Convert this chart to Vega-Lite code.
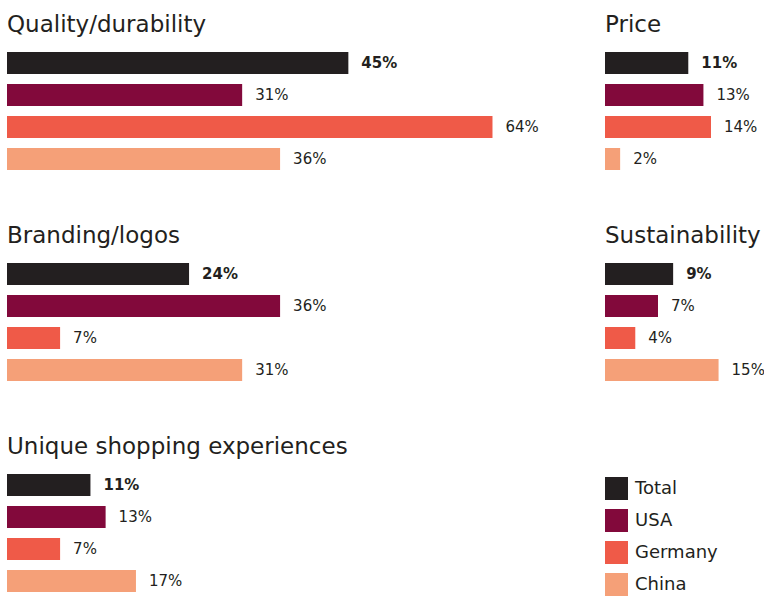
{
  "$schema": "https://vega.github.io/schema/vega-lite/v6.json",
  "padding": {"left": 7, "top": 14, "right": 0, "bottom": 0},
  "background": "white",
  "spacing": 50,
  "config": {
    "view": {"stroke": null},
    "font": "DejaVu Sans",
    "title": {"anchor": "start", "fontSize": 23, "fontWeight": "normal", "font": "DejaVu Sans", "color": "#231f20", "baseline": "alphabetic", "offset": 10, "frame": "group"},
    "legend": {"orient": "none", "legendX": 598, "legendY": 430, "symbolType": "square", "symbolSize": 529, "symbolStrokeWidth": 0, "symbolOpacity": 1, "labelFontSize": 18, "labelFont": "DejaVu Sans", "labelColor": "#231f20", "rowPadding": 9, "labelOffset": 7, "title": null}
  },
  "data": {"values": [
    {"panel": "Quality/durability", "country": "Total", "value": 0.45},
    {"panel": "Quality/durability", "country": "USA", "value": 0.31},
    {"panel": "Quality/durability", "country": "Germany", "value": 0.64},
    {"panel": "Quality/durability", "country": "China", "value": 0.36},
    {"panel": "Branding/logos", "country": "Total", "value": 0.24},
    {"panel": "Branding/logos", "country": "USA", "value": 0.36},
    {"panel": "Branding/logos", "country": "Germany", "value": 0.07},
    {"panel": "Branding/logos", "country": "China", "value": 0.31},
    {"panel": "Unique shopping experiences", "country": "Total", "value": 0.11},
    {"panel": "Unique shopping experiences", "country": "USA", "value": 0.13},
    {"panel": "Unique shopping experiences", "country": "Germany", "value": 0.07},
    {"panel": "Unique shopping experiences", "country": "China", "value": 0.17},
    {"panel": "Price", "country": "Total", "value": 0.11},
    {"panel": "Price", "country": "USA", "value": 0.13},
    {"panel": "Price", "country": "Germany", "value": 0.14},
    {"panel": "Price", "country": "China", "value": 0.02},
    {"panel": "Sustainability", "country": "Total", "value": 0.09},
    {"panel": "Sustainability", "country": "USA", "value": 0.07},
    {"panel": "Sustainability", "country": "Germany", "value": 0.04},
    {"panel": "Sustainability", "country": "China", "value": 0.15}
  ]},
  "vconcat": [
    {
      "bounds": "flush",
      "spacing": 67,
      "hconcat": [
        {
          "title": "Quality/durability",
          "width": 531, "height": 128,
          "transform": [{"filter": "datum.panel === 'Quality/durability'"}],
          "encoding": {
            "y": {"field": "country", "type": "nominal", "sort": ["Total", "USA", "Germany", "China"], "axis": null, "scale": {"paddingInner": 0.3125, "paddingOuter": 0.156}},
            "x": {"field": "value", "type": "quantitative", "axis": null, "scale": {"domain": [0, 0.7], "nice": false}}
          },
          "layer": [
            {"mark": {"type": "bar"}, "encoding": {"color": {"field": "country", "type": "nominal", "scale": {"domain": ["Total", "USA", "Germany", "China"], "range": ["#231f20", "#82093b", "#ef5a48", "#f5a078"]}}}},
            {"transform": [{"filter": "datum.country !== 'Total'"}], "mark": {"type": "text", "align": "left", "dx": 13, "fontSize": 15, "color": "#231f20"}, "encoding": {"text": {"field": "value", "format": ".0%"}}},
            {"transform": [{"filter": "datum.country === 'Total'"}], "mark": {"type": "text", "align": "left", "dx": 13, "fontSize": 15, "fontWeight": "bold", "color": "#231f20"}, "encoding": {"text": {"field": "value", "format": ".0%"}}}
          ]
        },
        {
          "title": "Price",
          "width": 159, "height": 128,
          "transform": [{"filter": "datum.panel === 'Price'"}],
          "encoding": {
            "y": {"field": "country", "type": "nominal", "sort": ["Total", "USA", "Germany", "China"], "axis": null, "scale": {"paddingInner": 0.3125, "paddingOuter": 0.156}},
            "x": {"field": "value", "type": "quantitative", "axis": null, "scale": {"domain": [0, 0.21], "nice": false}}
          },
          "layer": [
            {"mark": {"type": "bar"}, "encoding": {"color": {"field": "country", "type": "nominal", "scale": {"domain": ["Total", "USA", "Germany", "China"], "range": ["#231f20", "#82093b", "#ef5a48", "#f5a078"]}}}},
            {"transform": [{"filter": "datum.country !== 'Total'"}], "mark": {"type": "text", "align": "left", "dx": 13, "fontSize": 15, "color": "#231f20"}, "encoding": {"text": {"field": "value", "format": ".0%"}}},
            {"transform": [{"filter": "datum.country === 'Total'"}], "mark": {"type": "text", "align": "left", "dx": 13, "fontSize": 15, "fontWeight": "bold", "color": "#231f20"}, "encoding": {"text": {"field": "value", "format": ".0%"}}}
          ]
        }
      ]
    },
    {
      "bounds": "flush",
      "spacing": 67,
      "hconcat": [
        {
          "title": "Branding/logos",
          "width": 531, "height": 128,
          "transform": [{"filter": "datum.panel === 'Branding/logos'"}],
          "encoding": {
            "y": {"field": "country", "type": "nominal", "sort": ["Total", "USA", "Germany", "China"], "axis": null, "scale": {"paddingInner": 0.3125, "paddingOuter": 0.156}},
            "x": {"field": "value", "type": "quantitative", "axis": null, "scale": {"domain": [0, 0.7], "nice": false}}
          },
          "layer": [
            {"mark": {"type": "bar"}, "encoding": {"color": {"field": "country", "type": "nominal", "scale": {"domain": ["Total", "USA", "Germany", "China"], "range": ["#231f20", "#82093b", "#ef5a48", "#f5a078"]}}}},
            {"transform": [{"filter": "datum.country !== 'Total'"}], "mark": {"type": "text", "align": "left", "dx": 13, "fontSize": 15, "color": "#231f20"}, "encoding": {"text": {"field": "value", "format": ".0%"}}},
            {"transform": [{"filter": "datum.country === 'Total'"}], "mark": {"type": "text", "align": "left", "dx": 13, "fontSize": 15, "fontWeight": "bold", "color": "#231f20"}, "encoding": {"text": {"field": "value", "format": ".0%"}}}
          ]
        },
        {
          "title": "Sustainability",
          "width": 159, "height": 128,
          "transform": [{"filter": "datum.panel === 'Sustainability'"}],
          "encoding": {
            "y": {"field": "country", "type": "nominal", "sort": ["Total", "USA", "Germany", "China"], "axis": null, "scale": {"paddingInner": 0.3125, "paddingOuter": 0.156}},
            "x": {"field": "value", "type": "quantitative", "axis": null, "scale": {"domain": [0, 0.21], "nice": false}}
          },
          "layer": [
            {"mark": {"type": "bar"}, "encoding": {"color": {"field": "country", "type": "nominal", "scale": {"domain": ["Total", "USA", "Germany", "China"], "range": ["#231f20", "#82093b", "#ef5a48", "#f5a078"]}}}},
            {"transform": [{"filter": "datum.country !== 'Total'"}], "mark": {"type": "text", "align": "left", "dx": 13, "fontSize": 15, "color": "#231f20"}, "encoding": {"text": {"field": "value", "format": ".0%"}}},
            {"transform": [{"filter": "datum.country === 'Total'"}], "mark": {"type": "text", "align": "left", "dx": 13, "fontSize": 15, "fontWeight": "bold", "color": "#231f20"}, "encoding": {"text": {"field": "value", "format": ".0%"}}}
          ]
        }
      ]
    },
    {
      "title": "Unique shopping experiences",
      "width": 531, "height": 128,
      "transform": [{"filter": "datum.panel === 'Unique shopping experiences'"}],
      "encoding": {
        "y": {"field": "country", "type": "nominal", "sort": ["Total", "USA", "Germany", "China"], "axis": null, "scale": {"paddingInner": 0.3125, "paddingOuter": 0.156}},
        "x": {"field": "value", "type": "quantitative", "axis": null, "scale": {"domain": [0, 0.7], "nice": false}}
      },
      "layer": [
        {"mark": {"type": "bar"}, "encoding": {"color": {"field": "country", "type": "nominal", "scale": {"domain": ["Total", "USA", "Germany", "China"], "range": ["#231f20", "#82093b", "#ef5a48", "#f5a078"]}}}},
        {"transform": [{"filter": "datum.country !== 'Total'"}], "mark": {"type": "text", "align": "left", "dx": 13, "fontSize": 15, "color": "#231f20"}, "encoding": {"text": {"field": "value", "format": ".0%"}}},
        {"transform": [{"filter": "datum.country === 'Total'"}], "mark": {"type": "text", "align": "left", "dx": 13, "fontSize": 15, "fontWeight": "bold", "color": "#231f20"}, "encoding": {"text": {"field": "value", "format": ".0%"}}}
      ]
    }
  ]
}
